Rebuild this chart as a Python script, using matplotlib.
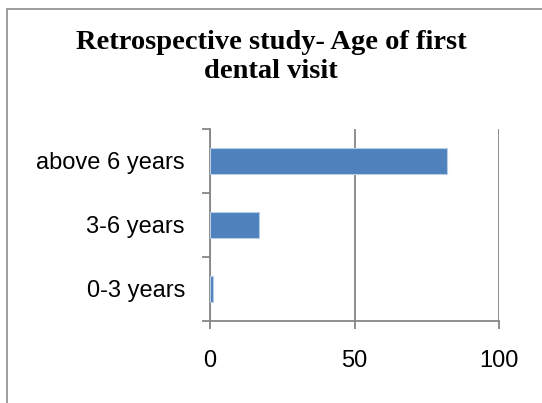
import matplotlib.pyplot as plt
from matplotlib.patches import Rectangle
import numpy as np

categories = ["0-3 years", "3-6 years", "above 6 years"]
values = [1, 17, 82]
xticks = [0, 50, 100]

grey = "#868686"

fig = plt.figure(figsize=(5.42, 4.03), dpi=100)
ax = fig.add_axes([210/542, 1-321/403, 289/542, 192/403])

y = np.arange(len(categories))
ax.barh(y, values, height=0.4, color="#4F81BD", edgecolor="#B9CDE5", linewidth=0.8, zorder=3)

ax.set_xlim(0, 100)
ax.set_ylim(-0.5, 2.5)
ax.set_xticks(xticks)
ax.set_xticklabels([str(v) for v in xticks])
ax.set_yticks(y)
ax.set_yticklabels(categories)
ax.set_yticks([-0.5, 0.5, 1.5, 2.5], minor=True)

ax.grid(axis="x", color=grey, linewidth=1.3, zorder=0)
for side in ["top", "right"]:
    ax.spines[side].set_visible(False)
for side in ["left", "bottom"]:
    ax.spines[side].set_color(grey)
    ax.spines[side].set_linewidth(1.3)

ax.tick_params(axis="y", which="major", length=0, pad=18)
ax.tick_params(axis="y", which="minor", length=5.5, width=1.3, color=grey)
ax.tick_params(axis="x", length=6, width=1.3, color=grey, pad=15)
for t in ax.get_xticklabels() + ax.get_yticklabels():
    t.set_fontfamily("Liberation Sans")
    t.set_fontsize(17)

fig.text(0.5, 1-57/403, "Retrospective study- Age of first\ndental visit",
         ha="center", va="center", family="Liberation Serif", weight="bold",
         size=20.5, linespacing=1.2)

# chart area border
fig.patches.append(Rectangle((7/542, -0.1), 1.2, 1-9/403+0.1, transform=fig.transFigure,
                             fill=False, edgecolor="#8c8c8c", linewidth=1.2))

fig.savefig("out.png", dpi=100)
